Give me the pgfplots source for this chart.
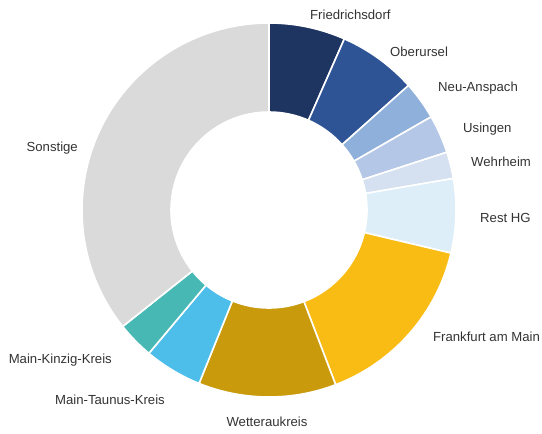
\documentclass[border=0pt]{standalone}
\usepackage{pgfplots}
\usepackage{pgfplotstable}
\pgfplotsset{compat=1.18}
\usepackage{fontspec}
\setmainfont{Liberation Sans}

% slice colours, in table order
\definecolor{slc0}{HTML}{1E3461}
\definecolor{slc1}{HTML}{2E5496}
\definecolor{slc2}{HTML}{8FB0DA}
\definecolor{slc3}{HTML}{B4C7E6}
\definecolor{slc4}{HTML}{D5E0F0}
\definecolor{slc5}{HTML}{DDEEF8}
\definecolor{slc6}{HTML}{F9BC15}
\definecolor{slc7}{HTML}{C99A0C}
\definecolor{slc8}{HTML}{4DBEEA}
\definecolor{slc9}{HTML}{47B8B4}
\definecolor{slc10}{HTML}{DADADA}
\definecolor{txt}{HTML}{333333}

% share in percent, label position in pixel coordinates
\pgfplotstableread[col sep=comma]{
name,share,lx,ly,anc
Friedrichsdorf,6.6,310,15,west
Oberursel,6.8,390,52,west
Neu-Anspach,3.3,438,88,west
Usingen,3.3,463,129,west
Wehrheim,2.3,471,162,west
Rest HG,6.4,480,218,west
Frankfurt am Main,15.5,433,337,west
Wetteraukreis,11.9,267,422,center
Main-Taunus-Kreis,5.0,165,400,east
Main-Kinzig-Kreis,3.2,112,360,east
Sonstige,35.7,78,148,east
}\sharetable

\def\cx{269}
\def\cy{210}
\def\rout{187}
\def\rin{98}

\begin{document}
\begin{tikzpicture}
\begin{axis}[
    width=542bp, height=434bp, scale only axis,
    xmin=0, xmax=542, ymin=0, ymax=434,
    y dir=reverse,
    hide axis, clip=false,
    font=\fontsize{13.2}{15}\selectfont,
  ]
  \pgfplotstablegetrowsof{\sharetable}
  \pgfmathtruncatemacro\nrows{\pgfplotsretval-1}
  \def\cum{0}
  \pgfplotsforeachungrouped \i in {0,...,\nrows}{
    \pgfplotstablegetelem{\i}{share}\of\sharetable \let\val\pgfplotsretval
    \pgfmathsetmacro\aa{90-3.6*\cum}
    \pgfmathsetmacro\ab{90-3.6*(\cum+\val)}
    \pgfmathsetmacro\px{\cx+\rout*cos(\aa)}
    \pgfmathsetmacro\py{\cy-\rout*sin(\aa)}
    \pgfmathsetmacro\qx{\cx+\rin*cos(\ab)}
    \pgfmathsetmacro\qy{\cy-\rin*sin(\ab)}
    \edef\temp{\noexpand\fill[fill=slc\i, draw=white, line width=1.6bp]
      (axis cs:\px,\py) arc[start angle=\aa, end angle=\ab, radius=\rout bp]
      -- (axis cs:\qx,\qy) arc[start angle=\ab, end angle=\aa, radius=\rin bp] -- cycle;}
    \temp
    \pgfmathsetmacro\cum{\cum+\val}
    \pgfplotstablegetelem{\i}{name}\of\sharetable \let\nm\pgfplotsretval
    \pgfplotstablegetelem{\i}{lx}\of\sharetable \let\lx\pgfplotsretval
    \pgfplotstablegetelem{\i}{ly}\of\sharetable \let\ly\pgfplotsretval
    \pgfplotstablegetelem{\i}{anc}\of\sharetable \let\an\pgfplotsretval
    \edef\temp{\noexpand\node[anchor=\an, text=txt, inner sep=0pt] at (axis cs:\lx,\ly) {\nm};}
    \temp
  }
\end{axis}
\pgfresetboundingbox
\path (current axis.south west) rectangle (current axis.north east);
\end{tikzpicture}
\end{document}
